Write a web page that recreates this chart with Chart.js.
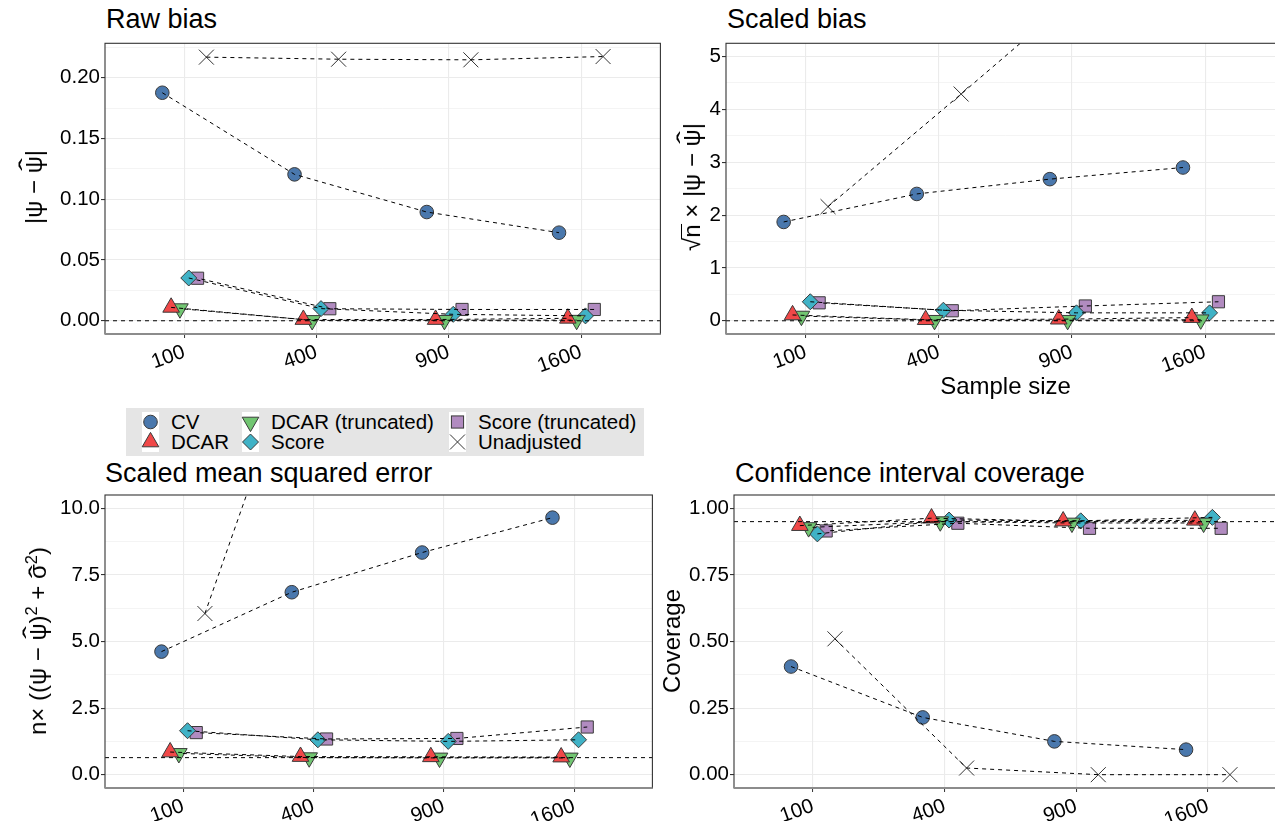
<!DOCTYPE html>
<html>
<head>
<meta charset="utf-8">
<title>Simulation results</title>
<script src="https://cdn.jsdelivr.net/npm/chart.js@4/dist/chart.umd.min.js"></script>
<style>
  html, body { margin:0; padding:0; background:#fff; }
  body { width:1275px; height:821px; overflow:hidden; position:relative;
         font-family:"Liberation Sans", Arial, Helvetica, sans-serif; color:#000; }
  .box { position:absolute; }
  .ptitle { position:absolute; font-size:27px; line-height:27px; white-space:nowrap; }
  .ytitle { position:absolute; font-size:24px; line-height:24px; white-space:nowrap;
            transform: translate(-50%, -50%) rotate(-90deg); }
  .hat { position:relative; display:inline-block; }
  .hat::after { content:'\02C6'; position:absolute; left:0; right:0; text-align:center;
                top:-0.24em; transform: scaleX(1.6); }
  .hat.low::after { top:-0.02em; }
  .ov { position:relative; display:inline-block; }
  .ov::before { content:''; position:absolute; left:-1px; right:0; top:1px; border-top:1.3px solid #000; }
  .sup { font-size:0.68em; position:relative; top:-0.55em; }
  #legend { position:absolute; left:126px; top:408px; width:518px; height:48px; background:#e5e5e5; }
  #legend .cols { position:absolute; left:16px; top:4px; display:flex; }
  .col { display:flex; flex-direction:column; }
  .item { display:flex; align-items:center; height:20px; }
  .key { width:17px; height:20px; background:#fff; position:relative; flex:none; }
  .key svg { position:absolute; left:0; top:0; overflow:visible; }
  .lab { margin-left:12px; font-size:20.5px; line-height:20px; white-space:nowrap; }
</style>
</head>
<body>
<div class="ptitle" style="left:106px;top:6px">Raw bias</div>
<div class="ptitle" style="left:727px;top:6px">Scaled bias</div>
<div class="ptitle" style="left:105px;top:460px">Scaled mean squared error</div>
<div class="ptitle" style="left:735px;top:460px">Confidence interval coverage</div>

<div class="box" style="left:0px;top:30px;width:672px;height:380px"><canvas id="c1"></canvas></div>
<div class="box" style="left:660px;top:30px;width:640px;height:380px"><canvas id="c2"></canvas></div>
<div class="box" style="left:0px;top:480px;width:664px;height:360px"><canvas id="c3"></canvas></div>
<div class="box" style="left:640px;top:480px;width:670px;height:360px"><canvas id="c4"></canvas></div>

<div class="ytitle" style="left:33.5px;top:187px">|ψ − <span class="hat">ψ</span>|</div>
<div class="ytitle" style="left:692px;top:187px">√<span class="ov">n</span> × |ψ − <span class="hat">ψ</span>|</div>
<div class="ytitle" style="left:39px;top:641px">n× ((ψ − <span class="hat">ψ</span>)<span class="sup">2</span> + <span class="hat low">σ</span><span class="sup">2</span>)</div>
<div class="ytitle" style="left:672px;top:641px">Coverage</div>

<div id="legend"><div class="cols" id="legendCols"></div></div>

<script>
// ---------------- data ----------------
const sampleSizes = ['100', '400', '900', '1600'];
const methods = ['CV', 'DCAR', 'DCAR (truncated)', 'Score', 'Score (truncated)', 'Unadjusted'];

// rows follow the order of `methods`, columns follow `sampleSizes`
const rawBias = [
  [0.1877, 0.1205, 0.0895, 0.0725],
  [0.0110, 0.0010, 0.0010, 0.0020],
  [0.0100, 0.0003, 0.0004, 0.0005],
  [0.0352, 0.0100, 0.0053, 0.0040],
  [0.0350, 0.0099, 0.0093, 0.0093],
  [0.2170, 0.2153, 0.2148, 0.2175]
];
const scaledBias = [
  [1.87, 2.40, 2.68, 2.90],
  [0.11, 0.02, 0.03, 0.06],
  [0.09, 0.01, 0.01, 0.02],
  [0.36, 0.20, 0.15, 0.15],
  [0.34, 0.19, 0.28, 0.36],
  [2.16, 4.29, 6.45, 8.70]
];
const scaledMSE = [
  [4.62, 6.85, 8.34, 9.65],
  [0.85, 0.68, 0.67, 0.66],
  [0.80, 0.64, 0.63, 0.63],
  [1.65, 1.31, 1.25, 1.31],
  [1.58, 1.34, 1.36, 1.79],
  [6.05, 20.0, 42.9, 77.0]
];
const coverage = [
  [0.406, 0.215, 0.125, 0.094],
  [0.935, 0.963, 0.952, 0.955],
  [0.928, 0.950, 0.945, 0.945],
  [0.904, 0.956, 0.953, 0.966],
  [0.915, 0.944, 0.925, 0.925],
  [0.510, 0.025, 0.000, 0.000]
];
// dashed reference lines (raw bias, scaled bias, scaled MSE, coverage)
const referenceLines = [0, 0, 0.64, 0.95];

// y tick values and labels
const rawTicks = [0, 0.05, 0.10, 0.15, 0.20];
const rawTickLabels = ['0.00', '0.05', '0.10', '0.15', '0.20'];
const scaledBiasTicks = [0, 1, 2, 3, 4, 5];
const scaledBiasTickLabels = ['0', '1', '2', '3', '4', '5'];
const mseTicks = [0, 2.5, 5, 7.5, 10];
const mseTickLabels = ['0.0', '2.5', '5.0', '7.5', '10.0'];
const coverageTicks = [0, 0.25, 0.5, 0.75, 1];
const coverageTickLabels = ['0.00', '0.25', '0.50', '0.75', '1.00'];

// ---------------- styles ----------------
const FONT = "'Liberation Sans', Arial, Helvetica, sans-serif";
const markerStyle = [
  {shape: 'circle',   r: 6.8,  rot: 0,   fill: '#4A78AD', stroke: '#3a3a3a'},
  {shape: 'triangle', r: 9.6,  rot: 0,   fill: '#F04848', stroke: '#3a3a3a'},
  {shape: 'triangle', r: 9.6,  rot: 180, fill: '#72C672', stroke: '#3a3a3a'},
  {shape: 'rectRot',  r: 8.0,  rot: 0,   fill: '#40B2C6', stroke: '#3a3a3a'},
  {shape: 'rect',     r: 8.6,  rot: 0,   fill: '#B18BC0', stroke: '#3a3a3a'},
  {shape: 'crossRot', r: 10.6, rot: 0,   fill: 'rgba(0,0,0,0)', stroke: '#333333'}
];
const lineDashOffset = [0, 0, 4, 0, 4, 0];
const dodge = [-1/6, -1/10, -1/30, 1/30, 1/10, 1/6];
const xMin = 0.4, xMax = 4.6;

const framePlugin = {
  id: 'frame',
  afterDatasetsDraw(chart) {
    const {ctx, chartArea: a} = chart;
    ctx.save();
    ctx.strokeStyle = '#333';
    ctx.lineWidth = 1.1;
    ctx.strokeRect(a.left, a.top, a.right - a.left, a.bottom - a.top);
    ctx.strokeStyle = '#8c8c8c';
    ctx.lineWidth = 2;
    ctx.beginPath();
    ctx.moveTo(a.left, a.bottom);
    ctx.lineTo(a.right, a.bottom);
    ctx.stroke();
    ctx.restore();
  }
};

function minorTicks(ticks, lo, hi) {
  const step = ticks[1] - ticks[0];
  const out = [];
  for (let k = -1; k < ticks.length; k++) {
    const v = k < 0 ? ticks[0] - step / 2 : ticks[k] + step / 2;
    if (v > lo && v < hi) out.push(v);
  }
  return out;
}

function makePanel(id, values, ref, range, ticks, tickLabels, xTitle, g) {
  const all = ticks.concat(minorTicks(ticks, range[0], range[1])).sort((a, b) => a - b);
  const isMajor = v => ticks.some(t => Math.abs(t - v) < 1e-9);
  const datasets = [];
  values.forEach((row, m) => {
    datasets.push({
      label: methods[m] + ' line',
      data: row.map((v, i) => ({x: i + 1 + dodge[m], y: v})),
      showLine: true, borderColor: '#000', borderWidth: 1, borderDash: [4, 4],
      borderDashOffset: lineDashOffset[m],
      pointRadius: 0, pointHoverRadius: 0, order: 0
    });
  });
  datasets.push({
    label: 'reference',
    data: [{x: xMin, y: ref}, {x: xMax, y: ref}],
    showLine: true, borderColor: '#000', borderWidth: 1, borderDash: [4, 4],
    pointRadius: 0, pointHoverRadius: 0, order: 0
  });
  values.forEach((row, m) => {
    const st = markerStyle[m];
    datasets.push({
      label: methods[m],
      data: row.map((v, i) => ({x: i + 1 + dodge[m], y: v})),
      showLine: false, pointStyle: st.shape, pointRadius: st.r, pointHoverRadius: st.r,
      pointRotation: st.rot, pointBackgroundColor: st.fill, pointBorderColor: st.stroke,
      pointBorderWidth: 1, order: 1
    });
  });

  new Chart(document.getElementById(id), {
    type: 'scatter',
    data: {datasets},
    plugins: [framePlugin],
    options: {
      responsive: true, maintainAspectRatio: false, animation: false, events: [],
      layout: {padding: {top: g.pt, right: g.pr, left: 0, bottom: 0}},
      plugins: {legend: {display: false}, tooltip: {enabled: false}, title: {display: false}},
      scales: {
        x: {
          type: 'linear', min: xMin, max: xMax,
          afterBuildTicks: s => { s.ticks = sampleSizes.map((_, i) => ({value: i + 1})); },
          afterFit: s => { s.height = g.xh; },
          ticks: {
            autoSkip: false, minRotation: 20, maxRotation: 20, padding: 2, color: '#000',
            font: {family: FONT, size: 20.5},
            callback: v => sampleSizes[Math.round(v) - 1]
          },
          grid: {color: '#ebebeb', lineWidth: 1.1, tickLength: 4, tickColor: '#333', tickWidth: 1},
          border: {display: false},
          title: xTitle ? {display: true, text: xTitle, color: '#000',
                           font: {family: FONT, size: 24}, padding: {top: 0, bottom: 8}}
                        : {display: false}
        },
        y: {
          type: 'linear', min: range[0], max: range[1],
          afterBuildTicks: s => { s.ticks = all.map(v => ({value: v})); },
          afterFit: s => { s.width = g.yw; },
          ticks: {
            autoSkip: false, padding: 1, color: '#000', font: {family: FONT, size: 20.5},
            callback: v => { const k = ticks.findIndex(t => Math.abs(t - v) < 1e-9); return k >= 0 ? tickLabels[k] : ''; }
          },
          grid: {
            color: '#ebebeb',
            lineWidth: c => (c.tick && isMajor(c.tick.value)) ? 1.1 : 0.55,
            tickLength: 4,
            tickColor: c => (c.tick && isMajor(c.tick.value)) ? '#333' : 'rgba(0,0,0,0)'
          },
          border: {display: false},
          title: {display: false}
        }
      }
    }
  });
}

makePanel('c1', rawBias, referenceLines[0], [-0.0109, 0.2284], rawTicks, rawTickLabels,
  null, {yw: 105, xh: 76, pt: 10, pr: 8});
makePanel('c2', scaledBias, referenceLines[1], [-0.25, 5.25], scaledBiasTicks, scaledBiasTickLabels,
  'Sample size', {yw: 66, xh: 76, pt: 10, pr: 15});
makePanel('c3', scaledMSE, referenceLines[2], [-0.5, 10.5], mseTicks, mseTickLabels,
  null, {yw: 105, xh: 52, pt: 15, pr: 8});
makePanel('c4', coverage, referenceLines[3], [-0.05, 1.05], coverageTicks, coverageTickLabels,
  null, {yw: 94, xh: 52, pt: 15, pr: 23});

// ---------------- legend ----------------
function symbolSVG(m) {
  const st = markerStyle[m];
  const cx = 8.5, cy = 10, r = st.r;
  let s = '';
  if (st.shape === 'circle') {
    s = `<circle cx="${cx}" cy="${cy}" r="${r}" fill="${st.fill}" stroke="${st.stroke}" stroke-width="1"/>`;
  } else if (st.shape === 'triangle') {
    const pts = [0, 120, 240].map(a => {
      const t = (a + st.rot) * Math.PI / 180;
      return (cx + r * Math.sin(t)).toFixed(2) + ',' + (cy - r * Math.cos(t)).toFixed(2);
    }).join(' ');
    s = `<polygon points="${pts}" fill="${st.fill}" stroke="${st.stroke}" stroke-width="1"/>`;
  } else if (st.shape === 'rectRot') {
    s = `<polygon points="${cx - r},${cy} ${cx},${cy - r} ${cx + r},${cy} ${cx},${cy + r}" fill="${st.fill}" stroke="${st.stroke}" stroke-width="1"/>`;
  } else if (st.shape === 'rect') {
    const h = r * Math.SQRT1_2;
    s = `<rect x="${cx - h}" y="${cy - h}" width="${2 * h}" height="${2 * h}" fill="${st.fill}" stroke="${st.stroke}" stroke-width="1"/>`;
  } else {
    const d = r * Math.SQRT1_2;
    s = `<line x1="${cx - d}" y1="${cy - d}" x2="${cx + d}" y2="${cy + d}" stroke="${st.stroke}" stroke-width="1"/>` +
        `<line x1="${cx - d}" y1="${cy + d}" x2="${cx + d}" y2="${cy - d}" stroke="${st.stroke}" stroke-width="1"/>`;
  }
  return `<svg width="17" height="20" viewBox="0 0 17 20">${s}</svg>`;
}
const legendColWidths = [100, 207, 190];
const colsEl = document.getElementById('legendCols');
for (let c = 0; c < 3; c++) {
  const col = document.createElement('div');
  col.className = 'col';
  col.style.width = legendColWidths[c] + 'px';
  [2 * c, 2 * c + 1].forEach(m => {
    const it = document.createElement('div');
    it.className = 'item';
    it.innerHTML = `<div class="key">${symbolSVG(m)}</div><span class="lab">${methods[m]}</span>`;
    col.appendChild(it);
  });
  colsEl.appendChild(col);
}
</script>
</body>
</html>
